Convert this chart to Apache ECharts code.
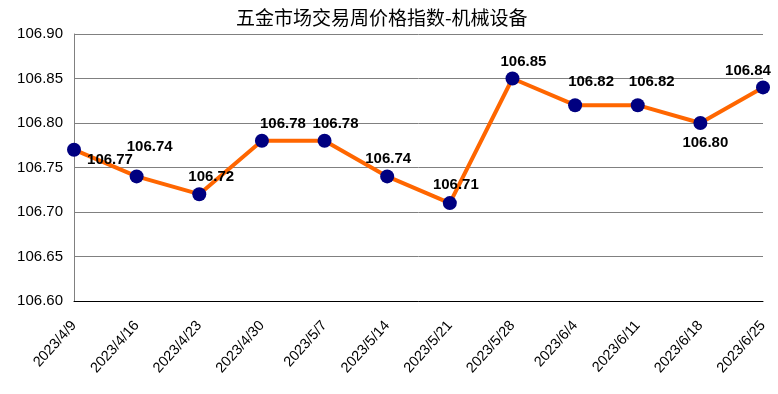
<!DOCTYPE html>
<html><head><meta charset="utf-8">
<script src="https://cdn.jsdelivr.net/npm/echarts@6/dist/echarts.min.js"></script>
<style>html,body{margin:0;padding:0;background:#fff}#c{width:778px;height:394px}</style>
</head><body><div id="c"></div>
<script>
var categories = ['2023/4/9','2023/4/16','2023/4/23','2023/4/30','2023/5/7','2023/5/14','2023/5/21','2023/5/28','2023/6/4','2023/6/11','2023/6/18','2023/6/25'];
var values = [106.77,106.74,106.72,106.78,106.78,106.74,106.71,106.85,106.82,106.82,106.80,106.84];
var yTicks = {min:106.60, max:106.90, interval:0.05};
var title = '五金市场交易周价格指数-机械设备';
// label offsets (style only)
var labelOffsets = [[36,10],[13,-30],[12,-17],[21,-17],[11,-17],[1,-18],[6,-18],[11,-17],[16,-23],[14,-23],[5,20],[-15,-17]];

var chart = echarts.init(document.getElementById('c'), null, {renderer:'canvas'});
chart.setOption({
  animation:false,
  backgroundColor:'#fff',
  title:{text:title,left:231,top:3,textStyle:{fontFamily:'"Noto Sans CJK SC"',fontWeight:'normal',fontSize:19,color:'#000'}},
  grid:{left:74,right:15,top:34,bottom:93,containLabel:false},
  xAxis:{type:'category',data:categories,boundaryGap:false,
    axisLine:{lineStyle:{color:'#000',width:1}},
    axisTick:{show:false},
    axisLabel:{rotate:48,fontFamily:'Arial, "Liberation Sans"',fontSize:14.5,color:'#000',margin:22,interval:0},
    splitLine:{show:false}},
  yAxis:{type:'value',min:yTicks.min,max:yTicks.max,interval:yTicks.interval,
    axisLine:{show:true,lineStyle:{color:'#808080'}},
    axisTick:{show:false},
    axisLabel:{formatter:function(v){return v.toFixed(2);},fontFamily:'Arial, "Liberation Sans"',fontSize:15,color:'#000',margin:11},
    splitLine:{lineStyle:{color:'#808080',width:1}}},
  series:[{type:'line',
    data:values.map(function(v,i){return {value:v,label:{offset:labelOffsets[i]}};}),
    symbol:'circle',symbolSize:14,
    lineStyle:{color:'#FF6600',width:4},
    itemStyle:{color:'#000080',borderWidth:0},
    label:{show:true,position:'inside',fontFamily:'Arial, "Liberation Sans"',fontWeight:'bold',fontSize:15,color:'#000',
      formatter:function(p){return p.value.toFixed(2);}}
  }]
});
</script></body></html>
